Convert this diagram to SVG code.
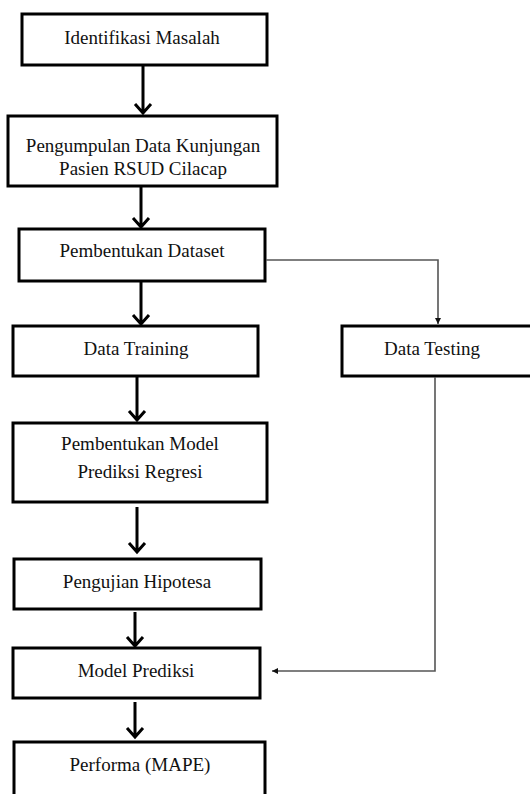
<svg xmlns="http://www.w3.org/2000/svg" width="530" height="794" viewBox="0 0 530 794">
<style>
.box{fill:#fff;stroke:#000;stroke-width:3}
.t{font-family:'Liberation Serif','Times New Roman','DejaVu Serif',serif;font-size:19px;fill:#111;text-anchor:middle}
.arr{fill:none;stroke:#000;stroke-width:3;stroke-linecap:butt;stroke-linejoin:miter}
.thin{fill:none;stroke:#555;stroke-width:1.6}
</style>
<defs>
<marker id="tri" viewBox="0 0 10 10" refX="10" refY="5" markerWidth="6" markerHeight="6" markerUnits="userSpaceOnUse" orient="auto">
<path d="M0,0 L10,5 L0,10 z" fill="#111"/>
</marker>
</defs>
<rect width="530" height="794" fill="#fff"/>
<g font-family="Liberation Serif, Times New Roman, serif">
<g id="n1"><rect class="box" x="22" y="14" width="245" height="51"/><text class="t" x="142" y="44">Identifikasi Masalah</text></g>
<g id="n2"><rect class="box" x="8" y="116" width="269" height="70"/><text class="t" x="143" y="152">Pengumpulan Data Kunjungan</text><text class="t" x="143" y="175">Pasien RSUD Cilacap</text></g>
<g id="n3"><rect class="box" x="19" y="229" width="246" height="52"/><text class="t" x="142" y="257">Pembentukan Dataset</text></g>
<g id="n4"><rect class="box" x="13" y="326" width="245" height="50"/><text class="t" x="136" y="355">Data Training</text></g>
<g id="n5"><rect class="box" x="342" y="326" width="200" height="50"/><text class="t" x="432" y="355">Data Testing</text></g>
<g id="n6"><rect class="box" x="13" y="423" width="254" height="79"/><text class="t" x="140" y="450">Pembentukan Model</text><text class="t" x="140" y="478">Prediksi Regresi</text></g>
<g id="n7"><rect class="box" x="14" y="559" width="247" height="50"/><text class="t" x="137" y="588">Pengujian Hipotesa</text></g>
<g id="n8"><rect class="box" x="13" y="648" width="247" height="50"/><text class="t" x="136" y="677">Model Prediksi</text></g>
<g id="n9"><rect class="box" x="14" y="742" width="251" height="60"/><text class="t" x="140" y="771">Performa (MAPE)</text></g>
</g>
<g id="connectors">
<path class="arr" d="M143,66 V113 M135,104 L143,113 L151,104"/>
<path class="arr" d="M141,187 V227 M133,218 L141,227 L149,218"/>
<path class="arr" d="M141,282 V324 M133,315 L141,324 L149,315"/>
<path class="arr" d="M137,377 V420 M129,411 L137,420 L145,411"/>
<path class="arr" d="M137,507 V552 M129,543 L137,552 L145,543"/>
<path class="arr" d="M135,612 V646 M127,637 L135,646 L143,637"/>
<path class="arr" d="M135,702 V737 M127,728 L135,737 L143,728"/>
<path class="thin" d="M266,260 H438 V324" marker-end="url(#tri)"/>
<path class="thin" d="M435,377 V671 H272" marker-end="url(#tri)"/>
</g>
</svg>
